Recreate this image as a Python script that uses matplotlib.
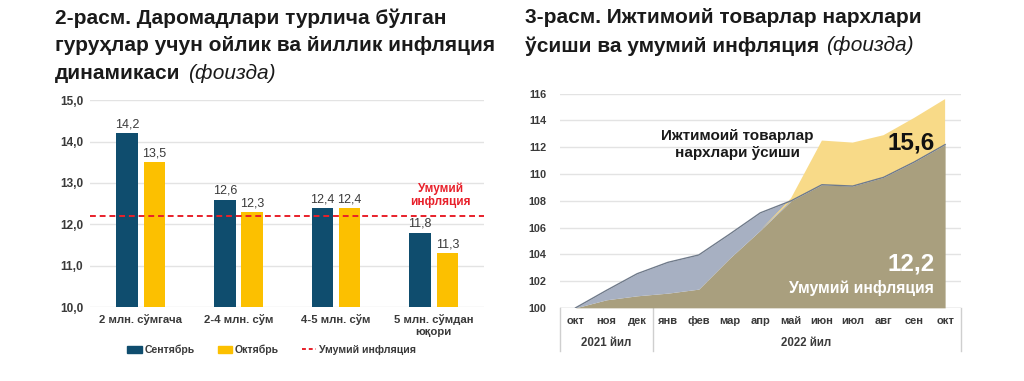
import numpy as np
import matplotlib
matplotlib.use("Agg")
import matplotlib.pyplot as plt
from matplotlib.patches import Patch
from matplotlib.lines import Line2D
from matplotlib.ticker import FuncFormatter

plt.rcParams["font.family"] = ["Liberation Sans", "DejaVu Sans"]

# --- chart 2: inflation by income group (bars)
groups = ["2 млн. сўмгача", "2-4 млн. сўм", "4-5 млн. сўм", "5 млн. сўмдан\nюқори"]
sep_vals = [14.2, 12.6, 12.4, 11.8]
oct_vals = [13.5, 12.3, 12.4, 11.3]
total_infl = 12.2

# --- chart 3: social goods prices vs overall inflation (areas)
months = ["окт", "ноя", "дек", "янв", "фев", "мар", "апр", "май",
          "июн", "июл", "авг", "сен", "окт"]
years = ["2021 йил", "2022 йил"]
overall = [100, 101.3, 102.55, 103.4, 103.95, 105.5, 107.1, 108.0,
           109.2, 109.1, 109.75, 110.9, 112.2]
social = [100, 100.6, 100.9, 101.1, 101.4, 103.7, 105.8, 108.2,
          112.5, 112.35, 112.9, 114.2, 115.6]

NAVY = "#0f4d6e"
GOLD = "#fcc000"
RED = "#e8202a"
GRID = "#e3e3e3"
TXT = "#3a3a3a"


def fmt(v):
    return f"{v:.1f}".replace(".", ",")


fig = plt.figure(figsize=(10.24, 3.81), dpi=100)


def title(x, lines, y0=0.953, step=0.0735, size=15):
    t = None
    for i, ln in enumerate(lines):
        t = fig.text(x, y0 - i * step, ln, fontsize=size, fontweight="bold",
                     color="#1a1a1a", va="center", ha="left")
    return t


def italic_tail(ax, t, s):
    ax.annotate(s, xy=(1, 0.5), xycoords=t, xytext=(5, 0),
                textcoords="offset points", va="center", ha="left",
                fontsize=15, fontstyle="italic", color="#1a1a1a",
                annotation_clip=False)


# ---------------- left: bars
ax = fig.add_axes([0.088, 0.194, 0.385, 0.543])
t1 = title(0.054, ["2-расм. Даромадлари турлича бўлган",
                   "гуруҳлар учун ойлик ва йиллик инфляция",
                   "динамикаси"])
italic_tail(ax, t1, "(фоизда)")

x = np.arange(len(groups))
w = 0.22
b1 = ax.bar(x - 0.14, sep_vals, w, color=NAVY, zorder=3, label="Сентябрь")
b2 = ax.bar(x + 0.14, oct_vals, w, color=GOLD, zorder=3, label="Октябрь")
for bars in (b1, b2):
    ax.bar_label(bars, labels=[fmt(v) for v in bars.datavalues],
                 padding=2, fontsize=9, color=TXT)
ax.axhline(total_infl, color=RED, ls=(0, (3, 2)), lw=1.4, zorder=4)
ax.text(3.07, total_infl + 0.5, "Умумий\nинфляция", color=RED, fontsize=8.5,
        fontweight="bold", ha="center", va="center", linespacing=1.1)
ax.set_ylim(10, 15)
ax.set_xlim(-0.52, 3.52)
ax.set_yticks(np.arange(10, 15.5, 1))
ax.yaxis.set_major_formatter(FuncFormatter(lambda v, p: fmt(v)))
ax.set_xticks(x)
ax.set_xticklabels(groups, fontsize=8.2, fontweight="bold", color=TXT, linespacing=1.3)
for lab in ax.get_yticklabels():
    lab.set_fontweight("bold")
    lab.set_fontsize(8.5)
    lab.set_color(TXT)
ax.tick_params(length=0, pad=5)
ax.grid(axis="y", color=GRID, lw=1, zorder=0)
for s in ax.spines.values():
    s.set_visible(False)
handles = [Patch(color=NAVY, label="Сентябрь"), Patch(color=GOLD, label="Октябрь"),
           Line2D([], [], color=RED, ls=(0, (2, 1.5)), lw=1.4, label="Умумий инфляция")]
leg = ax.legend(handles=handles, loc="upper center", bbox_to_anchor=(0.46, -0.135),
                ncol=3, frameon=False, handlelength=1.4, handleheight=0.7,
                handletextpad=0.2, columnspacing=2.2,
                prop={"weight": "bold", "size": 7.6})
for txt in leg.get_texts():
    txt.set_color(TXT)

# ---------------- right: areas
ax2 = fig.add_axes([0.547, 0.192, 0.391, 0.562])
t2 = title(0.513, ["3-расм. Ижтимоий товарлар нархлари",
                   "ўсиши ва умумий инфляция"])
italic_tail(ax2, t2, "(фоизда)")

xm = np.arange(len(months))
ov = np.array(overall)
so = np.array(social)
low = np.minimum(ov, so)
ax2.fill_between(xm, 100, low, color="#a99f7e", lw=0, zorder=3)
ax2.fill_between(xm, low, ov, where=ov >= so, interpolate=True,
                 color="#a7b0c2", lw=0, zorder=3)
ax2.fill_between(xm, low, so, where=so >= ov, interpolate=True,
                 color="#f8da88", lw=0, zorder=3)
ax2.plot(xm, ov, color="#6f7a8a", lw=1.0, zorder=4)
ax2.set_xlim(-0.5, 12.5)
ax2.set_ylim(100, 116)
ax2.set_yticks(np.arange(100, 117, 2))
ax2.grid(axis="y", color=GRID, lw=1, zorder=0)
for s in ax2.spines.values():
    s.set_visible(False)
ax2.axhline(100, color="#cfcfcf", lw=1, zorder=2)
ax2.set_xticks(xm)
ax2.set_xticklabels(months, fontsize=8, fontweight="bold", color=TXT)
for lab in ax2.get_yticklabels():
    lab.set_fontweight("bold")
    lab.set_fontsize(7.8)
    lab.set_color(TXT)
ax2.tick_params(length=0, pad=6)
ax2.tick_params(axis="y", pad=10)
trans = ax2.get_xaxis_transform()
for xs in (-0.5, 2.5, 12.5):
    ax2.plot([xs, xs], [0, -0.2], color="#cfcfcf", lw=1, transform=trans, clip_on=False)
ax2.text(1, -0.165, years[0], transform=trans, ha="center", va="center",
         fontsize=8.3, fontweight="bold", color=TXT)
ax2.text(7.5, -0.165, years[1], transform=trans, ha="center", va="center",
         fontsize=8.3, fontweight="bold", color=TXT)

ax2.text(5.25, 112.2, "Ижтимоий товарлар\nнархлари ўсиши", ha="center", va="center",
         fontsize=11, fontweight="bold", color="#1a1a1a", linespacing=1.2, zorder=5)
ax2.text(10.9, so[-1] - 3.25, fmt(so[-1] - 100), ha="center",
         va="center", fontsize=17.5, fontweight="bold", color="#111111", zorder=5)
ax2.text(10.9, 103.3, fmt(ov[-1] - 100), ha="center", va="center",
         fontsize=17.5, fontweight="bold", color="white", zorder=5)
ax2.text(11.65, 101.45, "Умумий инфляция", ha="right", va="center",
         fontsize=11.3, fontweight="bold", color="white", zorder=5)

fig.savefig("out.png", dpi=100)
